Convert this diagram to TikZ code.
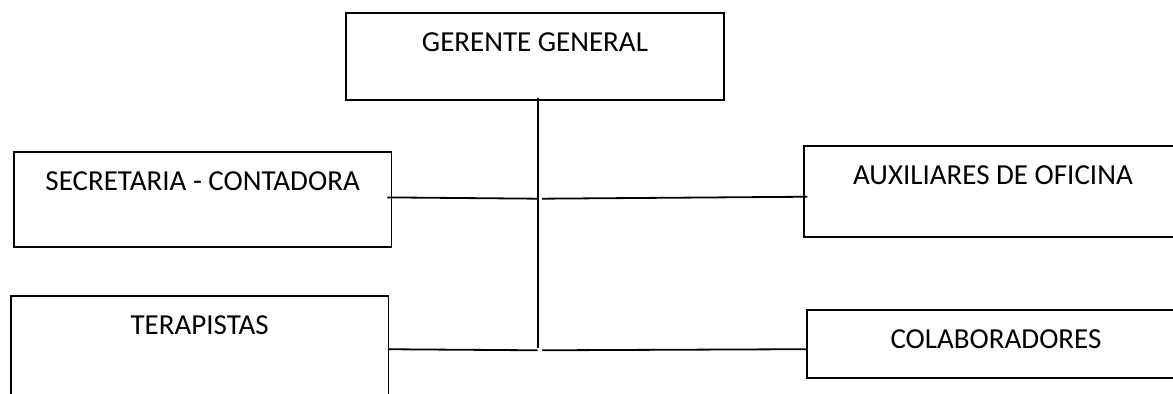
\documentclass[tikz,border=0pt]{standalone}
\usepackage{fontspec}
\setmainfont{Carlito}
\usepackage{tikz}

\begin{document}
\begin{tikzpicture}[
	x=0.5pt, y=-0.5pt,
	line width=0.9pt,
	every node/.style = {
		shape=rectangle, draw, anchor=north west,
		inner sep=0pt, minimum width=188.75pt,
		text height=19.25pt,
		font=\fontsize{14.5pt}{17pt}\selectfont}]
	\useasboundingbox (0,0) rectangle (1173,394);
	\clip (0,0) rectangle (1173,394);
	\node[text depth=24.5pt] (gerente) at (345.3,12) {GERENTE GENERAL};
	\node[text depth=28.25pt] (secretaria) at (13,151) {SECRETARIA - CONTADORA};
	\node[text depth=40pt] (terapistas) at (10,295.3) {TERAPISTAS};
	\node[text depth=26pt] (auxiliares) at (803.3,145.3) {AUXILIARES DE OFICINA};
	\node[text depth=14.75pt] (colaboradores) at (806.3,309) {COLABORADORES};
	\coordinate (nudo-sup) at (537.7,198.7);
	\coordinate (nudo-inf) at (537.7,350.3);
	\draw (nudo-inf |- gerente.south) ++(0,-3) -- ([yshift=1.3pt]nudo-inf);
	\draw ([xshift=-2.5pt,yshift=1pt]secretaria.east) -- (nudo-sup);
	\draw (nudo-sup) ++(4.3,0) -- ([xshift=2pt,yshift=-2.65pt]auxiliares.west);
	\draw ([xshift=-0.7pt,yshift=3.1pt]terapistas.east) -- (nudo-inf);
	\draw (nudo-inf) ++(4.3,0) -- ([xshift=0.35pt,yshift=-2.65pt]colaboradores.west);
\end{tikzpicture}
\end{document}
